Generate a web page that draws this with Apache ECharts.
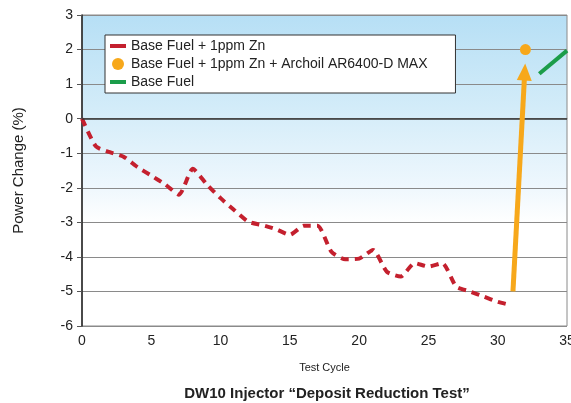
<!DOCTYPE html>
<html><head><meta charset="utf-8">
<script src="https://cdn.jsdelivr.net/npm/echarts@6/dist/echarts.min.js"></script>
<style>html,body{margin:0;padding:0;background:#fff}#c{width:571px;height:403px}</style>
</head><body><div id="c"></div>
<script>
const cycles = [0,1,2,3,4,5,6,7,8,9,10,11,12,13,14,15,16,17,18,19,20,21,22,23,24,25,26,27,28,29,30,31];
const znValues = [0,-0.8,-0.97,-1.1,-1.4,-1.65,-1.9,-2.2,-1.45,-1.9,-2.3,-2.65,-2.98,-3.08,-3.2,-3.36,-3.1,-3.1,-3.85,-4.07,-4.05,-3.8,-4.43,-4.57,-4.18,-4.28,-4.18,-4.86,-5.0,-5.15,-5.3,-5.4];
const archoilPoint = [[32, 2.0]];
const baseFuel = [[33, 1.3],[35, 1.97]];
const arrowStart = [31.1, -5.0];
const arrowEnd = [31.95, 1.35];
const seriesNames = ['Base Fuel + 1ppm Zn','Base Fuel + 1ppm Zn + Archoil AR6400-D MAX','Base Fuel'];
const xTicks = {min:0, max:35, step:5};
const yTicks = {min:-6, max:3, step:1};
const titleText = 'DW10 Injector \u201cDeposit Reduction Test\u201d';

const FONT = '"Liberation Sans", Arial, Helvetica, sans-serif';
const chart = echarts.init(document.getElementById('c'), null, {renderer:'canvas'});
chart.setOption({
  animation:false,
  textStyle:{fontFamily:FONT},
  title:{text:titleText, left:322, top:381, textAlign:'center',
    textStyle:{fontFamily:FONT, fontSize:15, fontWeight:'bold', color:'#222'}},
  grid:{left:82, right:4, top:15, bottom:77, outerBoundsMode:'none', containLabel:false,
    show:true, borderColor:'#8a8a8a', borderWidth:1,
    backgroundColor:new echarts.graphic.LinearGradient(0,0,0,1,[
      {offset:0,color:'#b6dff5'},{offset:0.3,color:'#d3ecf9'},{offset:0.55,color:'#eef7fd'},{offset:0.67,color:'#ffffff'},{offset:1,color:'#ffffff'}])},
  legend:{orient:'vertical', left:105, top:35, backgroundColor:'#fff', borderColor:'#333', borderWidth:1,
    padding:[4,28,4,5], itemWidth:16, itemHeight:12, itemGap:4,
    textStyle:{fontFamily:FONT, fontSize:14, color:'#222'},
    data:[
      {name:seriesNames[0], icon:'path://M0,0 L16,0 L16,4 L0,4 Z', itemStyle:{color:'#c4202e'}},
      {name:seriesNames[1], icon:'circle', itemStyle:{color:'#f7a81b', opacity:1}},
      {name:seriesNames[2], icon:'path://M0,0 L16,0 L16,4 L0,4 Z', itemStyle:{color:'#1b9d4a'}}
    ]},
  xAxis:{type:'value', min:xTicks.min, max:xTicks.max, interval:xTicks.step,
    name:'Test Cycle', nameLocation:'middle', nameGap:36,
    nameTextStyle:{fontFamily:FONT, fontSize:11, color:'#222'},
    axisLine:{show:true, lineStyle:{color:'#8a8a8a'}}, axisTick:{show:false},
    splitLine:{show:false},
    axisLabel:{fontFamily:FONT, fontSize:14, color:'#222', margin:8}},
  yAxis:{type:'value', min:yTicks.min, max:yTicks.max, interval:yTicks.step,
    name:'Power Change (%)', nameLocation:'middle', nameGap:56,
    nameTextStyle:{fontFamily:FONT, fontSize:15, color:'#222'},
    axisLine:{show:true, lineStyle:{color:'#222', width:1.5}},
    axisTick:{show:true, length:5, lineStyle:{color:'#555'}},
    splitLine:{show:true, lineStyle:{color:'#8a8a8a', width:1}},
    axisLabel:{fontFamily:FONT, fontSize:14, color:'#222', margin:9}},
  series:[
    {name:seriesNames[0], type:'line', smooth:0.2, showSymbol:false, symbol:'none',
      data:cycles.map((c,i)=>[c, znValues[i]]),
      lineStyle:{color:'#c4202e', width:4, type:[8,6]}, itemStyle:{color:'#c4202e'},
      markLine:{silent:true, symbol:'none', label:{show:false},
        lineStyle:{color:'#333', width:1.5, type:'solid'}, data:[{yAxis:0}]},
      z:3},
    {name:seriesNames[1], type:'scatter', symbol:'circle', symbolSize:11,
      data:archoilPoint, itemStyle:{color:'#f7a81b', opacity:1},
      markLine:{silent:true, symbol:['none','triangle'], symbolSize:[15,17], label:{show:false},
        lineStyle:{color:'#f7a81b', width:5, type:'solid'}, itemStyle:{color:'#f7a81b'},
        data:[[{coord:arrowStart},{coord:arrowEnd}]]},
      z:4},
    {name:seriesNames[2], type:'line', showSymbol:false, symbol:'none', data:baseFuel,
      lineStyle:{color:'#1b9d4a', width:4}, itemStyle:{color:'#1b9d4a'}, z:3}
  ]
});
</script></body></html>
